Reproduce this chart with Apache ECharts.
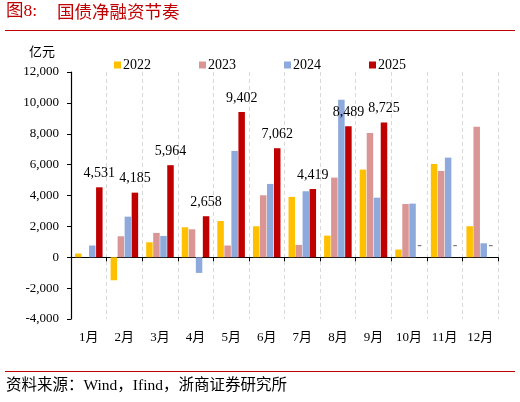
<!DOCTYPE html>
<html>
<head>
<meta charset="utf-8">
<script src="https://cdn.jsdelivr.net/npm/echarts@6/dist/echarts.min.js"></script>
<style>
  html, body { margin: 0; padding: 0; background: #fff; }
  #chart-container { width: 520px; height: 402px; }
</style>
</head>
<body>
<div id="chart-container"></div>
<script>
// Categories and series values (亿元)
const months = ['1月', '2月', '3月', '4月', '5月', '6月', '7月', '8月', '9月', '10月', '11月', '12月'];
const s2022 = [240, -1490, 970, 1940, 2350, 2010, 3910, 1400, 5680, 500, 6045, 2010];
const s2023 = [0, 1360, 1575, 1810, 760, 4015, 800, 5160, 8050, 3450, 5590, 8460];
const s2024 = [760, 2630, 1380, -1015, 6890, 4750, 4275, 10210, 3860, 3475, 6455, 905];
const s2025 = [4531, 4185, 5964, 2658, 9402, 7062, 4419, 8489, 8725, null, null, null];
const yearNames = ['2022', '2023', '2024', '2025'];

const serif = "'Liberation Serif', 'Noto Sans CJK SC', serif";
const colors = ['#FFC000', '#DA9694', '#8EA9DB', '#C00000'];

// Format numbers with thousands separators
const fmt = new Intl.NumberFormat('en-US', { maximumFractionDigits: 0 });

// 2025 has no data for Oct-Dec: show a grey dash like the source chart
const data2025 = s2025.map(v => v === null
  ? { value: 0, label: { show: true, formatter: '-', color: '#7f7f7f', fontSize: 14, fontWeight: 'bold', distance: 5 } }
  : v);

const chart = echarts.init(document.getElementById('chart-container'));

function barSeries(name, data, color, extra) {
  return Object.assign({
    name: name,
    type: 'bar',
    data: data,
    barWidth: 6.5,
    barGap: '8%',
    itemStyle: { color: color },
    emphasis: { disabled: true }
  }, extra || {});
}

chart.setOption({
  animation: false,
  textStyle: { fontFamily: serif },
  graphic: [
    {
      type: 'text', left: 6, top: 3,
      style: { text: '图8:', fill: '#C00000', font: "17.5px 'Liberation Serif', 'Noto Sans CJK SC'" }
    },
    {
      type: 'text', left: 57, top: 3,
      style: { text: '国债净融资节奏', fill: '#C00000', font: "17.5px 'Noto Sans CJK SC'" }
    },
    {
      type: 'line', shape: { x1: 5, y1: 30.5, x2: 515, y2: 30.5 },
      style: { stroke: '#C00000', lineWidth: 1 }
    },
    {
      type: 'text', left: 29, top: 45,
      style: { text: '亿元', fill: '#000', font: "13px 'Noto Sans CJK SC'" }
    },
    {
      type: 'line', shape: { x1: 5, y1: 371.5, x2: 515, y2: 371.5 },
      style: { stroke: '#C00000', lineWidth: 1 }
    },
    {
      type: 'text', left: 6, top: 378,
      style: { text: '资料来源：Wind，Ifind，浙商证券研究所', fill: '#000', font: "15.5px 'Liberation Serif', 'Noto Sans CJK SC'" }
    }
  ],
  legend: {
    data: yearNames,
    left: 109,
    top: 53,
    icon: 'rect',
    itemWidth: 7,
    itemHeight: 7,
    itemGap: 48,
    textStyle: { fontFamily: serif, fontSize: 14, color: '#000', padding: [0, 0, 0, -3] }
  },
  grid: { left: 71, right: 22, top: 72, bottom: 83 },
  xAxis: [
    {
      type: 'category',
      data: months,
      axisLine: { onZero: true, lineStyle: { color: '#000', width: 1.2 } },
      axisTick: { show: true, length: 4, lineStyle: { color: '#000' } },
      axisLabel: { show: false },
      splitLine: { show: true, lineStyle: { color: '#d9d9d9', type: [4, 3] } }
    },
    {
      type: 'category',
      data: months,
      position: 'bottom',
      axisLine: { show: false },
      axisTick: { show: false },
      axisLabel: { color: '#000', fontSize: 13, fontFamily: serif, margin: 12 },
      splitLine: { show: false }
    }
  ],
  yAxis: {
    type: 'value',
    min: -4000,
    max: 12000,
    interval: 2000,
    axisLine: { show: true, lineStyle: { color: '#000', width: 1.2 } },
    axisTick: { show: true, length: 4, lineStyle: { color: '#000' } },
    axisLabel: { color: '#000', fontSize: 13, fontFamily: serif, margin: 12, formatter: v => fmt.format(v) },
    splitLine: { show: false }
  },
  series: [
    barSeries('2022', s2022, colors[0]),
    barSeries('2023', s2023, colors[1]),
    barSeries('2024', s2024, colors[2]),
    barSeries('2025', data2025, colors[3], {
      label: {
        show: true,
        position: 'top',
        distance: 7,
        color: '#000',
        fontSize: 14,
        fontFamily: serif,
        formatter: p => fmt.format(p.value)
      }
    })
  ]
});
</script>
</body>
</html>
